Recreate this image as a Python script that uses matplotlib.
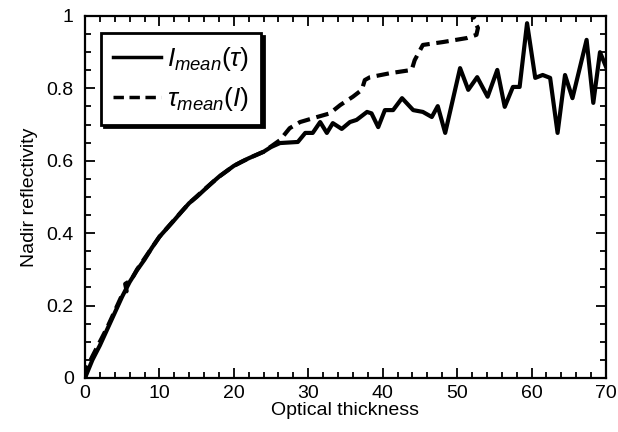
import numpy as np
import matplotlib.pyplot as plt
from matplotlib.ticker import MultipleLocator

plt.rcParams['font.family'] = ['Liberation Sans', 'DejaVu Sans']
plt.rcParams['mathtext.fontset'] = 'custom'
plt.rcParams['mathtext.it'] = 'Liberation Sans:italic'
plt.rcParams['mathtext.rm'] = 'Liberation Sans'

# I_mean(tau): mean reflectivity for each optical thickness bin
tau_solid = [0, 1, 2, 3, 4, 5, 6, 7, 8, 9, 10, 11, 12, 13, 14, 15, 16, 17, 18,
             19, 20, 21, 22, 23, 24, 25, 26.2, 28.6, 29.6, 30.6, 31.6, 32.5,
             33.3, 34.5, 35.6, 36.5, 37.9, 38.5, 39.4, 40.3, 41.4, 42.6, 44.1,
             45.4, 46.6, 47.4, 48.4, 50.4, 51.5, 52.7, 54.1, 55.4, 56.4, 57.5,
             58.4, 59.4, 60.5, 61.5, 62.5, 63.5, 64.5, 65.5, 67.4, 68.3, 69.2,
             70]
refl_solid = [0, 0.05, 0.09, 0.135, 0.18, 0.225, 0.265, 0.298, 0.327, 0.36,
              0.39, 0.413, 0.436, 0.46, 0.483, 0.5, 0.519, 0.538, 0.556, 0.571,
              0.586, 0.597, 0.607, 0.616, 0.625, 0.638, 0.649, 0.652, 0.677,
              0.677, 0.707, 0.677, 0.704, 0.688, 0.707, 0.713, 0.735, 0.731,
              0.693, 0.740, 0.740, 0.773, 0.740, 0.735, 0.721, 0.751, 0.677,
              0.856, 0.796, 0.831, 0.777, 0.851, 0.749, 0.804, 0.804, 0.98,
              0.829, 0.837, 0.829, 0.677, 0.837, 0.773, 0.934, 0.76, 0.90, 0.86]

# tau_mean(I): mean optical thickness for each reflectivity bin
tau_dash = [0, 0.3, 1.0, 2.0, 3.0, 4.0, 5.0, 5.6, 5.4, 6.2, 7.0, 8.0, 10.0,
            12.0, 14.0, 16.0, 18.0, 20.0, 22.0, 24.0, 26.2, 27.5, 28.9, 31.2,
            32.9, 34.3, 36.0, 37.2, 37.6, 38.3, 41.0, 43.9, 44.3, 45.4, 48.1,
            51.3, 52.6, 52.8, 52.1, 52.4]
refl_dash = [0, 0.03, 0.06, 0.1, 0.14, 0.185, 0.23, 0.24, 0.26, 0.27, 0.30,
             0.33, 0.39, 0.437, 0.483, 0.52, 0.556, 0.586, 0.607, 0.625, 0.657,
             0.69, 0.707, 0.721, 0.731, 0.754, 0.777, 0.796, 0.823, 0.831,
             0.842, 0.851, 0.878, 0.92, 0.928, 0.939, 0.948, 0.967, 0.994, 1.0]

fig = plt.figure(figsize=(6.18, 4.32), dpi=100)
ax = fig.add_axes([0.1375, 0.125, 0.843, 0.838])

ax.plot(tau_solid, refl_solid, color='black', lw=3, solid_joinstyle='round',
        label=r'$I_{mean}(\tau)$')
ax.plot(tau_dash, refl_dash, color='black', lw=3, linestyle=(0, (3, 1.6)),
        label=r'$\tau_{mean}(I)$')

ax.set_xlim(0, 70)
ax.set_ylim(0, 1)
ax.xaxis.set_major_locator(MultipleLocator(10))
ax.xaxis.set_minor_locator(MultipleLocator(2))
ax.yaxis.set_minor_locator(MultipleLocator(0.05))
ax.set_yticks([0, 0.2, 0.4, 0.6, 0.8, 1.0])
ax.set_yticklabels(['0', '0.2', '0.4', '0.6', '0.8', '1'])
ax.tick_params(which='both', direction='in', top=True, right=True,
               labelsize=14, width=1.3)
ax.tick_params(axis='y', pad=8)
ax.tick_params(axis='x', pad=5)
ax.tick_params(which='major', length=7)
ax.tick_params(which='minor', length=4)
for s in ax.spines.values():
    s.set_linewidth(1.6)

ax.set_xlabel('Optical thickness', fontsize=14, labelpad=0)
ax.set_ylabel('Nadir reflectivity', fontsize=14, labelpad=6)

leg = ax.legend(loc='upper left', bbox_to_anchor=(0.031, 0.953),
                borderaxespad=0, fontsize=19, handlelength=1.8,
                handletextpad=0.25, labelspacing=0.45, borderpad=0.45,
                fancybox=False, shadow={'color': 'black', 'alpha': 1})
leg.get_frame().set_edgecolor('black')
leg.get_frame().set_linewidth(2)
for h in leg.get_lines():
    h.set_linewidth(2.5)

fig.savefig('out.png', dpi=100)
